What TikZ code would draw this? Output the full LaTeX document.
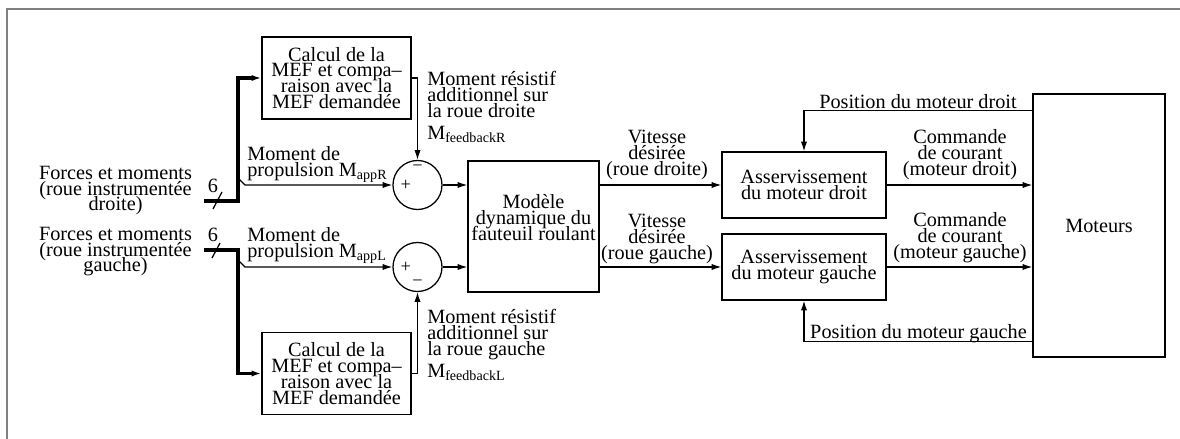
\documentclass[tikz,border=0pt]{standalone}
\usepackage{fontspec}
\setmainfont{Liberation Serif}
\usetikzlibrary{arrows.meta}

\begin{document}
\begin{tikzpicture}[x=0.025cm, y=-0.025cm,
  font={\fontsize{14.4}{11.3}\selectfont\lineskiplimit=-\maxdimen},
  >={Latex[length=7pt,width=4.5pt]},
  block/.style={draw, line width=0.9pt, align=center, inner sep=0pt},
  sumnode/.style={draw, circle, line width=0.9pt, minimum size=1.225cm, inner sep=0pt},
  sig/.style={line width=0.9pt, ->},
  bus/.style={line width=2.3pt, ->},
  lbl/.style={align=center, inner sep=0pt},
  sign/.style={font=\fontsize{13}{14}\selectfont, inner sep=0pt}]

  \useasboundingbox (0,0) rectangle (1180,439);

  % ==========================================
  % Frame
  % ==========================================
  \draw[gray, line width=1.4pt] (7,439) -- (7,9) -- (1180,9);

  % ==========================================
  % Blocks
  % ==========================================
  \node[block, minimum width=3.725cm, minimum height=2.05cm] (mefR) at (336.5,78) {Calcul de la\\MEF et compa--\\raison avec la\\MEF demandée};
  \node[block, minimum width=3.725cm, minimum height=2.05cm] (mefL) at (336.5,373.5) {Calcul de la\\MEF et compa--\\raison avec la\\MEF demandée};

  \node[sumnode] (sumR) at (417.5,185) {};
  \node[sumnode] (sumL) at (417.5,267) {};
  \node[sign] at ([xshift=-0.29cm]sumR.center) {+};
  \node[sign] at ([yshift=0.425cm]sumR.center) {−};
  \node[sign] at ([xshift=-0.29cm]sumL.center) {+};
  \node[sign] at ([yshift=-0.4cm]sumL.center) {−};

  \node[block, minimum width=3.275cm, minimum height=3.275cm] (model) at (533.5,226.5) {};
  \node[lbl, anchor=north] (modeltxt) at ([yshift=-0.85cm]model.north) {Modèle\\dynamique du\\fauteuil roulant};

  \node[block, minimum width=4.1cm, minimum height=1.65cm] (asvR) at (804,185) {Asservissement\\du moteur droit};
  \node[block, minimum width=4.1cm, minimum height=1.65cm] (asvL) at (804,267) {Asservissement\\du moteur gauche};

  \node[block, minimum width=3.3cm, minimum height=6.575cm] (mot) at (1099,225.5) {Moteurs};

  % ==========================================
  % Inputs (6 signals per wheel)
  % ==========================================
  \node[lbl, anchor=north] (forcesR) at (115.5,165.6) {Forces et moments\\(roue instrumentée\\droite)};
  \node[lbl, anchor=north] (forcesL) at (115.5,226.6) {Forces et moments\\(roue instrumentée\\gauche)};

  \coordinate (inR) at (204,201);
  \coordinate (jR) at (238,201);
  \coordinate (inL) at (204,250);
  \coordinate (jL) at (238,250);
  \draw[bus] (inR) -- (jR) |- (mefR.west);
  \draw[bus] (inL) -- (jL) |- (mefL.west);

  % bus width marks
  \draw[line width=0.9pt] ([shift={(9,8)}]inR) -- ++(9,-17);
  \draw[line width=0.9pt] ([shift={(8,8)}]inL) -- ++(8,-15);
  \node (nR) at (213,186) {6};
  \node (nL) at (213,235) {6};

  % propulsion moment branches
  \coordinate (bR) at (238,178);
  \coordinate (bL) at (238,260);
  \draw[sig] (bR) -- ++(7,7) -- (sumR.west);
  \draw[sig] (bL) -- ++(7,7) -- (sumL.west);
  \node[lbl, align=left, anchor=north west] (propR) at (247,146) {Moment de\\propulsion M\textsubscript{appR}};
  \node[lbl, align=left, anchor=north west] (propL) at (247,227) {Moment de\\propulsion M\textsubscript{appL}};

  % ==========================================
  % Feedback moments
  % ==========================================
  \draw[sig] (mefR.east) -| (sumR.north);
  \draw[sig] (mefL.east) -| (sumL.south);
  \node[lbl, align=left, anchor=north west] (resR) at (427,71) {Moment résistif\\additionnel sur\\la roue droite\\[4.8pt]M\textsubscript{feedbackR}};
  \node[lbl, align=left, anchor=north west] (resL) at (427,309) {Moment résistif\\additionnel sur\\la roue gauche\\[4.8pt]M\textsubscript{feedbackL}};

  % ==========================================
  % Forward path
  % ==========================================
  \draw[sig] (sumR.east) -- (sumR.east -| model.west);
  \draw[sig] (sumL.east) -- (sumL.east -| model.west);
  \draw[sig] (asvR.west -| model.east) -- (asvR.west);
  \draw[sig] (asvL.west -| model.east) -- (asvL.west);
  \draw[sig] (asvR.east) -- (asvR.east -| mot.west);
  \draw[sig] (asvL.east) -- (asvL.east -| mot.west);

  \node[lbl, anchor=north] (vitR) at (657,129.6) {Vitesse\\désirée\\(roue droite)};
  \node[lbl, anchor=north] (vitL) at (657,213.6) {Vitesse\\désirée\\(roue gauche)};
  \node[lbl, anchor=north] (cmdR) at (960,129.6) {Commande\\de courant\\(moteur droit)};
  \node[lbl, anchor=north] (cmdL) at (960,212) {Commande\\de courant\\(moteur gauche)};

  % ==========================================
  % Motor position feedback
  % ==========================================
  \draw[sig] ([yshift=-0.425cm]mot.north west) -| (asvR.north);
  \draw[sig] ([yshift=0.4cm]mot.south west) -| (asvL.south);
  \node[lbl, anchor=base] (posR) at (918,109) {Position du moteur droit};
  \node[lbl, anchor=base] (posL) at (918.5,339) {Position du moteur gauche};

\end{tikzpicture}
\end{document}
